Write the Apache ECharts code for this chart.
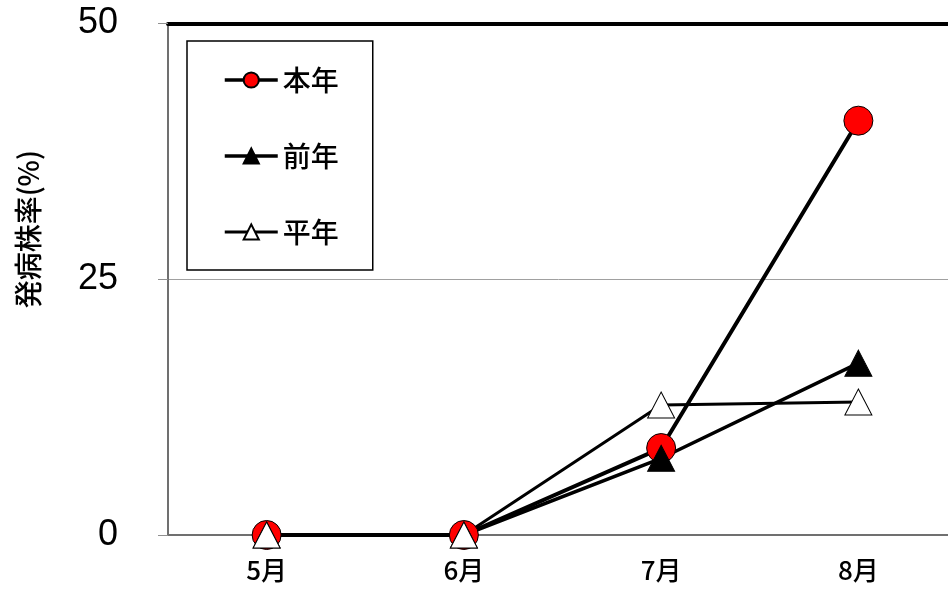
<!DOCTYPE html>
<html>
<head>
<meta charset="utf-8">
<script src="https://cdn.jsdelivr.net/npm/echarts@6/dist/echarts.min.js"></script>
<style>
  html, body { margin: 0; padding: 0; background: #fff; }
  #chart { width: 948px; height: 592px; }
</style>
</head>
<body>
<div id="chart"></div>
<script>
// data
const months = ['5月', '6月', '7月', '8月'];
const honnen = [0, 0, 8.5, 40.5];   // 本年
const zennen = [0, 0, 7.5, 16.8];   // 前年
const heinen = [0, 0, 12.7, 13.0];  // 平年
const yTicks = [0, 25, 50];

const jp = '"Noto Sans CJK JP", "Noto Sans", sans-serif';

let option = {
  animation: false,
  backgroundColor: '#fff',
  grid: {
    left: 168,
    width: 789,
    top: 23.5,
    bottom: 57,
    outerBoundsMode: 'none'
  },
  legend: {
    orient: 'vertical',
    left: 187,
    top: 41,
    padding: [25, 34, 24, 36],
    itemGap: 48,
    itemWidth: 53,
    itemHeight: 19,
    borderColor: '#000',
    borderWidth: 1.5,
    textStyle: { fontFamily: jp, fontSize: 28, fontWeight: 500, color: '#000' },
    data: [
      { name: '本年', lineStyle: { width: 3.5 } },
      { name: '前年', lineStyle: { width: 3.5 } },
      { name: '平年', lineStyle: { width: 3 } }
    ]
  },
  xAxis: [
    {
      type: 'category',
      data: months,
      axisLine: { lineStyle: { color: '#707070', width: 2 } },
      axisTick: { length: 7, lineStyle: { color: '#909090', width: 1 } },
      axisLabel: { fontFamily: jp, fontSize: 26, fontWeight: 500, color: '#000', margin: 22 }
    },
    {
      type: 'category',
      data: months,
      position: 'top',
      axisLine: { lineStyle: { color: '#000', width: 4 } },
      axisTick: { show: false },
      axisLabel: { show: false }
    }
  ],
  yAxis: {
    type: 'value',
    min: yTicks[0],
    max: yTicks[yTicks.length - 1],
    interval: yTicks[1] - yTicks[0],
    name: '発病株率(%)',
    nameLocation: 'middle',
    nameRotate: 90,
    nameGap: 126,
    nameTextStyle: { fontFamily: jp, fontSize: 28, fontWeight: 500, color: '#000', padding: [0, 0, 0, 100] },
    axisLine: { show: true, lineStyle: { color: '#707070', width: 2 } },
    axisTick: { show: true, length: 10, lineStyle: { color: '#909090', width: 1 } },
    axisLabel: { fontFamily: '"Liberation Sans Narrow", "Liberation Sans", sans-serif', fontSize: 36, color: '#000', margin: 50 },
    splitLine: { lineStyle: { color: '#a0a0a0', width: 1 } }
  },
  series: [
    {
      name: '本年',
      type: 'line',
      data: honnen,
      symbol: 'circle',
      symbolSize: 29,
      lineStyle: { color: '#000', width: 4 },
      itemStyle: { color: '#ff0000', borderColor: '#000', borderWidth: 1 }
    },
    {
      name: '前年',
      type: 'line',
      data: zennen,
      symbol: 'triangle',
      symbolSize: [27, 26],
      lineStyle: { color: '#000', width: 3.5 },
      itemStyle: { color: '#000', borderColor: '#000', borderWidth: 1 }
    },
    {
      name: '平年',
      type: 'line',
      data: heinen,
      symbol: 'triangle',
      symbolSize: [27, 26],
      lineStyle: { color: '#000', width: 3 },
      itemStyle: { color: '#fff', borderColor: '#000', borderWidth: 1 }
    }
  ]
};

echarts.init(document.getElementById('chart')).setOption(option);
</script>
</body>
</html>
